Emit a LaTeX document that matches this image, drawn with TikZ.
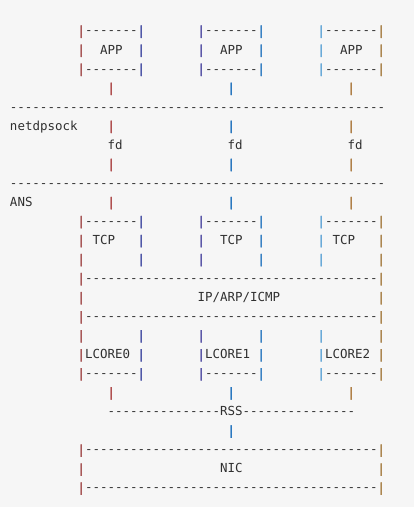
\documentclass[tikz,border=0pt]{standalone}
\usepackage{fontspec}
\newfontfamily\codefont{DejaVu Sans Mono}
\newfontfamily\barfont[FakeBold=1.2]{DejaVu Sans Mono}
\definecolor{bg}{HTML}{F6F6F6}
\definecolor{ink}{HTML}{303030}
\definecolor{p9}{HTML}{A85858}
\definecolor{p13}{HTML}{B05050}
\definecolor{p17}{HTML}{5058A8}
\definecolor{p25}{HTML}{5C58A8}
\definecolor{p29}{HTML}{2A78C0}
\definecolor{p33}{HTML}{3A82C4}
\definecolor{p41}{HTML}{6AAAD8}
\definecolor{p45}{HTML}{B08048}
\definecolor{p49}{HTML}{AC8650}
\begin{document}
\begin{tikzpicture}[
x=7.5pt,y=-19.04pt,
ch/.style={anchor=base west,inner sep=0pt,outer sep=0pt,text=ink,
  font=\codefont\fontsize{12.46pt}{19pt}\selectfont},
bar/.style={ch,text=p#1,font=\barfont\fontsize{12.46pt}{19pt}\selectfont}
]
\useasboundingbox[fill=bg] (-1.3333,-0.838) rectangle (53.867,25.79);

% pipes
\foreach \r in {1,2,3,11,12,13,17,18,19}
  \foreach \c in {9,17,25,33,41,49}
    \node[bar=\c] (bar-\r-\c) at (\c,\r) {|};
\foreach \r in {4,6,8,10,20}
  \foreach \c in {13,29,45}
    \node[bar=\c] (bar-\r-\c) at (\c,\r) {|};
\node[bar=29] (bar-22-29) at (29,22) {|};
\foreach \r in {14,15,16,23,24,25}
  \foreach \c in {9,49}
    \node[bar=\c] (bar-\r-\c) at (\c,\r) {|};

% dashes
\foreach \r in {1,3,11,19}
  \foreach \c in {0,...,6} {
    \node[ch] (dash-\r-a\c) at (10+\c,\r) {-};
    \node[ch] (dash-\r-b\c) at (26+\c,\r) {-};
    \node[ch] (dash-\r-c\c) at (42+\c,\r) {-};
  }
\foreach \r in {5,9}
  \foreach \c in {0,...,49}
    \node[ch] (dash-\r-\c) at (\c,\r) {-};
\foreach \r in {14,16,23,25}
  \foreach \c in {10,...,48}
    \node[ch] (dash-\r-\c) at (\c,\r) {-};
\foreach \c in {0,...,14} {
  \node[ch] (dash-21-a\c) at (13+\c,21) {-};
  \node[ch] (dash-21-b\c) at (31+\c,21) {-};
}

% labels
\node[ch] (app1) at (12,2) {APP};
\node[ch] (app2) at (28,2) {APP};
\node[ch] (app3) at (44,2) {APP};
\node[ch] (netdpsock) at (0,6) {netdpsock};
\node[ch] (fd1) at (13,7) {fd};
\node[ch] (fd2) at (29,7) {fd};
\node[ch] (fd3) at (45,7) {fd};
\node[ch] (ans) at (0,10) {ANS};
\node[ch] (tcp1) at (11,12) {TCP};
\node[ch] (tcp2) at (28,12) {TCP};
\node[ch] (tcp3) at (43,12) {TCP};
\node[ch] (ip) at (25,15) {IP/ARP/ICMP};
\node[ch] (lcore0) at (10,18) {LCORE0};
\node[ch] (lcore1) at (26,18) {LCORE1};
\node[ch] (lcore2) at (42,18) {LCORE2};
\node[ch] (rss) at (28,21) {RSS};
\node[ch] (nic) at (28,24) {NIC};

\end{tikzpicture}
\end{document}
